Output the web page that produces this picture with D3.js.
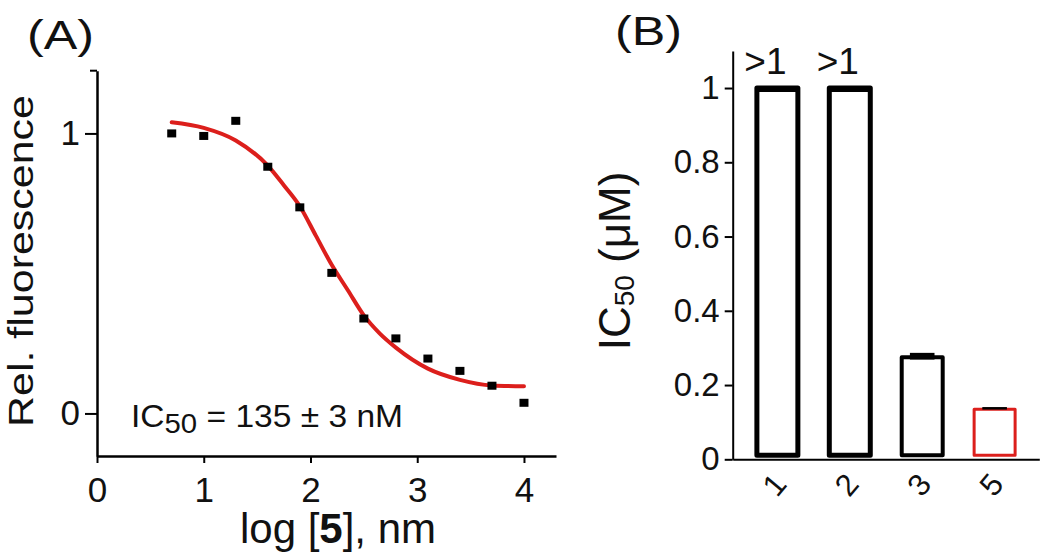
<!DOCTYPE html>
<html>
<head>
<meta charset="utf-8">
<script src="https://cdnjs.cloudflare.com/ajax/libs/d3/7.8.5/d3.min.js"></script>
<style>
  html, body { margin: 0; padding: 0; background: #fff; }
  svg { display: block; font-family: "Liberation Sans", Arial, Helvetica, sans-serif; }
</style>
</head>
<body>
<script>
// ---------- Panel A data ----------
const logConc   = [0.7, 1.0, 1.3, 1.6, 1.9, 2.2, 2.5, 2.8, 3.1, 3.4, 3.7, 4.0];
const relFluor  = [1.000, 0.991, 1.045, 0.881, 0.736, 0.502, 0.339, 0.268, 0.196, 0.152, 0.099, 0.038];
// fitted curve
const fitX = [0.7, 1.0, 1.3, 1.6, 1.75, 1.9, 2.05, 2.2, 2.35, 2.5, 2.65, 2.8, 3.1, 3.4, 3.7, 4.0];
const fitY = [1.04, 1.02, 0.975, 0.885, 0.815, 0.74, 0.635, 0.53, 0.44, 0.35, 0.285, 0.235, 0.16, 0.12, 0.10, 0.097];
const xTicksA = [0, 1, 2, 3, 4];
const yTicksA = [0, 1];

// ---------- Panel B data ----------
const compounds = ["1", "2", "3", "5"];
const ic50      = [1, 1, 0.275, 0.135];
const ic50Err   = [0, 0, 0.009, 0.003];
const barLabels = [">1", ">1", "", ""];
const yTicksB   = [0, 0.2, 0.4, 0.6, 0.8, 1];

const W = 1050, H = 559;
const svg = d3.select("body").append("svg").attr("width", W).attr("height", H);
const RED = "#dc1f1c";

// ================= Panel A =================
const xA = d3.scaleLinear().domain([0, 4.3]).range([97, 556]);
const yA = d3.scaleLinear().domain([-0.152, 1.224]).range([456, 70.7]);

const gA = svg.append("g");

// x axis
const axA = gA.append("g")
  .attr("transform", `translate(0,${yA.range()[0]})`)
  .call(d3.axisBottom(xA).tickValues(xTicksA).tickFormat(d3.format("d")).tickSize(7).tickSizeOuter(0).tickPadding(14));
// y axis
const ayA = gA.append("g")
  .attr("transform", `translate(${xA.range()[0]},0)`)
  .call(d3.axisLeft(yA).tickValues(yTicksA).tickFormat(d3.format("d")).tickSize(12).tickSizeOuter(0).tickPadding(5));
// small hook at the top of the y axis
gA.append("line")
  .attr("x1", xA.range()[0] - 7).attr("x2", xA.range()[0])
  .attr("y1", yA(yA.domain()[1])).attr("y2", yA(yA.domain()[1]))
  .attr("stroke", "#000").attr("stroke-width", 2);

[axA, ayA].forEach(g => {
  g.select(".domain").attr("stroke", "#000").attr("stroke-width", 2.5);
  g.selectAll(".tick line").attr("stroke", "#000").attr("stroke-width", 2);
  g.selectAll(".tick text").attr("font-size", 35).attr("fill", "#111")
    .attr("font-family", '"Liberation Sans", Arial, sans-serif');
});

// fitted curve
const fitData = fitX.map((x, i) => ({ x, y: fitY[i] }));
gA.append("path")
  .datum(fitData)
  .attr("fill", "none")
  .attr("stroke", RED)
  .attr("stroke-width", 4)
  .attr("stroke-linecap", "round")
  .attr("d", d3.line().x(d => xA(d.x)).y(d => yA(d.y)).curve(d3.curveMonotoneX));

// data points (squares)
const pts = logConc.map((x, i) => ({ x, y: relFluor[i] }));
const sqW = 9, sqH = 8;
gA.selectAll("rect.pt").data(pts).enter().append("rect")
  .attr("class", "pt")
  .attr("x", d => xA(d.x) - sqW / 2)
  .attr("y", d => yA(d.y) - sqH / 2)
  .attr("width", sqW).attr("height", sqH)
  .attr("fill", "#000");

// IC50 annotation
const ann = gA.append("text").attr("x", 131).attr("y", 427).attr("font-size", 32).attr("fill", "#111")
  .attr("textLength", 272).attr("lengthAdjust", "spacingAndGlyphs");
ann.append("tspan").text("IC");
ann.append("tspan").attr("font-size", 28).attr("dy", 6).text("50");
ann.append("tspan").attr("dy", -6).text(" = 135 ± 3 nM");

// axis titles
const xtA = gA.append("text").attr("x", 338).attr("y", 543).attr("text-anchor", "middle")
  .attr("font-size", 42).attr("fill", "#111");
xtA.append("tspan").text("log [");
xtA.append("tspan").attr("font-weight", "bold").text("5");
xtA.append("tspan").text("], nm");

gA.append("text")
  .attr("transform", "translate(33,261) rotate(-90)")
  .attr("text-anchor", "middle")
  .attr("font-size", 35)
  .attr("textLength", 332).attr("lengthAdjust", "spacingAndGlyphs")
  .attr("fill", "#111")
  .text("Rel. fluorescence");

// panel label
gA.append("text").attr("x", 27).attr("y", 48.5).attr("font-size", 41)
  .attr("textLength", 67).attr("lengthAdjust", "spacingAndGlyphs").attr("fill", "#111").text("(A)");

// ================= Panel B =================
const xB = d3.scaleBand().domain(compounds).range([732.7, 1039.3]).paddingInner(0.434).paddingOuter(0.334);
const yB = d3.scaleLinear().domain([0, 1.1]).range([459.3, 50.9]);

const gB = svg.append("g");

const bars = compounds.map((c, i) => ({ c, v: ic50[i], e: ic50Err[i], lab: barLabels[i] }));
const strokeW = c => (c === "1" || c === "2") ? 5 : (c === "3" ? 4 : 3);
const strokeC = c => c === "5" ? RED : "#000";
const baseInset = 4;

gB.selectAll("rect.bar").data(bars).enter().append("rect")
  .attr("class", "bar")
  .attr("x", d => xB(d.c))
  .attr("y", d => yB(d.v))
  .attr("width", xB.bandwidth())
  .attr("height", d => yB(0) - baseInset - yB(d.v))
  .attr("fill", "#fff")
  .attr("stroke", d => strokeC(d.c))
  .attr("stroke-width", d => strokeW(d.c))
  .attr("stroke-linejoin", "round");

// error caps
const capW = xB.bandwidth() * 0.6;
gB.selectAll("rect.err").data(bars.filter(d => d.e > 0)).enter().append("rect")
  .attr("class", "err")
  .attr("x", d => xB(d.c) + (xB.bandwidth() - capW) / 2)
  .attr("y", d => yB(d.v + d.e) - 1)
  .attr("width", capW)
  .attr("height", d => Math.max(2.5, yB(d.v - d.e) - yB(d.v + d.e)))
  .attr("fill", "#000");

// thick tops for the >1 bars
gB.selectAll("line.top").data(bars.filter(d => d.lab)).enter().append("line")
  .attr("x1", d => xB(d.c)).attr("x2", d => xB(d.c) + xB.bandwidth())
  .attr("y1", d => yB(d.v) + 1).attr("y2", d => yB(d.v) + 1)
  .attr("stroke", "#000").attr("stroke-width", 6);

// ">1" labels
gB.selectAll("text.lab").data(bars.filter(d => d.lab)).enter().append("text")
  .attr("class", "lab")
  .attr("x", d => xB(d.c) + xB.bandwidth() / 2 - 12)
  .attr("y", 73.5)
  .attr("text-anchor", "middle")
  .attr("font-size", 37).attr("fill", "#111")
  .text(d => d.lab);

// axes
const ayB = gB.append("g")
  .attr("transform", `translate(${xB.range()[0]},0)`)
  .call(d3.axisLeft(yB).tickValues(yTicksB).tickFormat(d => d === 0 || d === 1 ? d3.format("d")(d) : d3.format(".1f")(d))
        .tickSize(8).tickSizeOuter(0).tickPadding(5));
ayB.select(".domain").attr("stroke", "#000").attr("stroke-width", 2);
ayB.selectAll(".tick line").attr("stroke", "#000").attr("stroke-width", 2);
ayB.selectAll(".tick text").attr("font-size", 33).attr("fill", "#111")
  .attr("font-family", '"Liberation Sans", Arial, sans-serif');

const axB = gB.append("g")
  .attr("transform", `translate(0,${yB(0)})`)
  .call(d3.axisBottom(xB).tickSize(0).tickSizeOuter(0).tickFormat(""));
axB.select(".domain").attr("stroke", "#000").attr("stroke-width", 2);

// rotated category labels
gB.selectAll("text.cat").data(compounds).enter().append("text")
  .attr("class", "cat")
  .attr("transform", d => `translate(${xB(d) + xB.bandwidth() / 2 - 3},485) rotate(-50)`)
  .attr("text-anchor", "middle")
  .attr("dominant-baseline", "central")
  .attr("font-size", 31).attr("fill", "#111")
  .text(d => d);

// y title
const ytB = gB.append("text")
  .attr("transform", "translate(630,261) rotate(-90)")
  .attr("text-anchor", "middle")
  .attr("font-size", 44).attr("fill", "#111");
ytB.append("tspan").text("IC");
ytB.append("tspan").attr("font-size", 28).attr("dy", 4).text("50");
ytB.append("tspan").attr("dy", -4).text(" (μM)");

// panel label
gB.append("text").attr("x", 615).attr("y", 44.5).attr("font-size", 41)
  .attr("textLength", 67).attr("lengthAdjust", "spacingAndGlyphs").attr("fill", "#111").text("(B)");
</script>
</body>
</html>
